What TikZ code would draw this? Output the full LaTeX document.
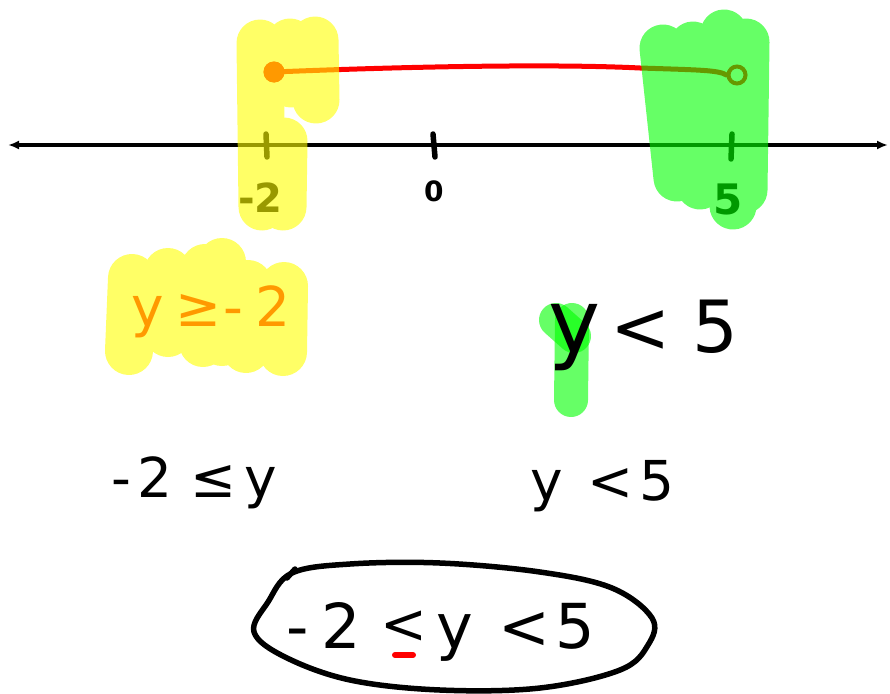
\documentclass[tikz,border=0pt]{standalone}
\usepackage{fontspec}
\setmainfont{DejaVu Sans}
\usetikzlibrary{arrows.meta}
\definecolor{hlyellow}{RGB}{255,255,0}
\definecolor{hlgreen}{RGB}{0,255,0}
\definecolor{inkred}{RGB}{255,0,0}
\tikzset{
  ink/.style={line width=4.5pt, line cap=round, line join=round},
  hl/.style={line width=47pt, line cap=round},
  hand/.style={inner sep=0pt, anchor=base west},
}
\newcommand{\fs}[1]{\fontsize{#1}{#1}\selectfont}
\begin{document}
\begin{tikzpicture}[x=1pt,y=-1pt]
\useasboundingbox (0,0) rectangle (890,693);
\fill[white] (0,0) rectangle (890,693);

% number line with its ticks
\coordinate (L) at (8,145);
\coordinate (R) at (888,145);
\draw[ink, line width=4pt, {Latex[length=11pt,width=9pt]}-{Latex[length=11pt,width=9pt]}] (L) -- (R);
\draw[ink, line width=5.5pt] (266,134) -- (267,157);
\draw[ink, line width=5.5pt] (433,134) -- (435,157);
\draw[ink, line width=5.5pt] (732,134) -- (731,159);
\node[hand, font=\fs{40}\bfseries] (tm2) at (238,212) {-2};
\node[hand, font=\fs{28}\bfseries] (t0) at (424,201) {0};
\node[hand, font=\fs{42}\bfseries] (t5) at (713,214) {5};

% solution segment: closed dot at -2, open dot at 5
\node[circle, fill=inkred, minimum size=21pt, inner sep=0pt] (dotL) at (274,72) {};
\node[circle, draw=inkred, line width=4pt, fill=white, minimum size=17pt, inner sep=0pt] (dotR) at (737,75) {};
\draw[ink, inkred, line width=5pt] (dotL.center) .. controls (420,66) and (560,64) .. (640,68)
  .. controls (700,70) and (718,70) .. (dotR.west);
\node[circle, fill=inkred, minimum size=21pt, inner sep=0pt] at (dotL) {};

% small green mark under the y
\draw[line width=34pt, line cap=round, hlgreen, opacity=0.6] (556,320) -- (574,336);
\draw[line width=34pt, line cap=round, hlgreen, opacity=0.6] (572,320) -- (571,400);

% inequalities
\node[hand, font=\fs{55}, text=inkred] (geq) at (131,326) {y\hspace{12pt}≥\hspace{2pt}-\hspace{12pt}2};
\node[hand, font=\fs{72}] (ltA) at (548,352) {{\fs{88}y}\hspace{10pt}<\hspace{22pt}5};
\node[hand, font=\fs{55}] (leq) at (111,497) {-\hspace{6pt}2\hspace{18pt}≤\hspace{8pt}y};
\node[hand, font=\fs{55}] (ltB) at (530,500) {y\hspace{25pt}<\hspace{6pt}5};

% combined inequality; its first sign is a < with a red bar under it
\node[hand, font=\fs{62}] (bothA) at (286,648) {-\hspace{13pt}2};
\node[hand, font=\fs{56}] (bothB) at (380,643) {<};
\node[hand, font=\fs{62}] (bothC) at (436,648) {y\hspace{26pt}<\hspace{5pt}5};
\draw[inkred, line width=6pt, line cap=round] (395,655) -- (413,655);

% loop drawn round the combined inequality
\draw[ink, line width=5.5pt] plot[smooth cycle, tension=0.6] coordinates {
  (292,573) (350,564) (440,563) (540,572) (612,588) (652,618)
  (648,645) (620,670) (540,688) (440,690) (350,680) (285,657) (254,632) (268,602)};
\draw[ink, line width=5.5pt] (287,578) -- (295,569);

% highlighter strokes laid over the drawing
\begin{scope}[transparency group, opacity=0.6]
  \draw[hl, hlyellow] (260,43) -- (262,207);
  \draw[hl, hlyellow] (284,141) -- (283,207);
  \draw[hl, hlyellow] (290,42) -- (291,84);
  \draw[hl, hlyellow] (315,40) -- (316,100);
  \draw[hl, hlgreen] (663,48) -- (677,178);
  \draw[hl, hlgreen] (693,45) -- (700,186);
  \draw[hl, hlgreen] (724,33) -- (733,206);
  \draw[hl, hlgreen] (746,42) -- (744,190);
  \draw[hl, hlyellow, line width=48pt] (132,278) -- (129,351);
  \draw[hl, hlyellow, line width=48pt] (168,272) -- (168,333);
  \draw[hl, hlyellow, line width=48pt] (205,268) -- (203,343);
  \draw[hl, hlyellow, line width=48pt] (222,262) -- (222,342);
  \draw[hl, hlyellow, line width=48pt] (248,284) -- (246,349);
  \draw[hl, hlyellow, line width=48pt] (284,286) -- (283,352);
\end{scope}
\end{tikzpicture}
\end{document}
